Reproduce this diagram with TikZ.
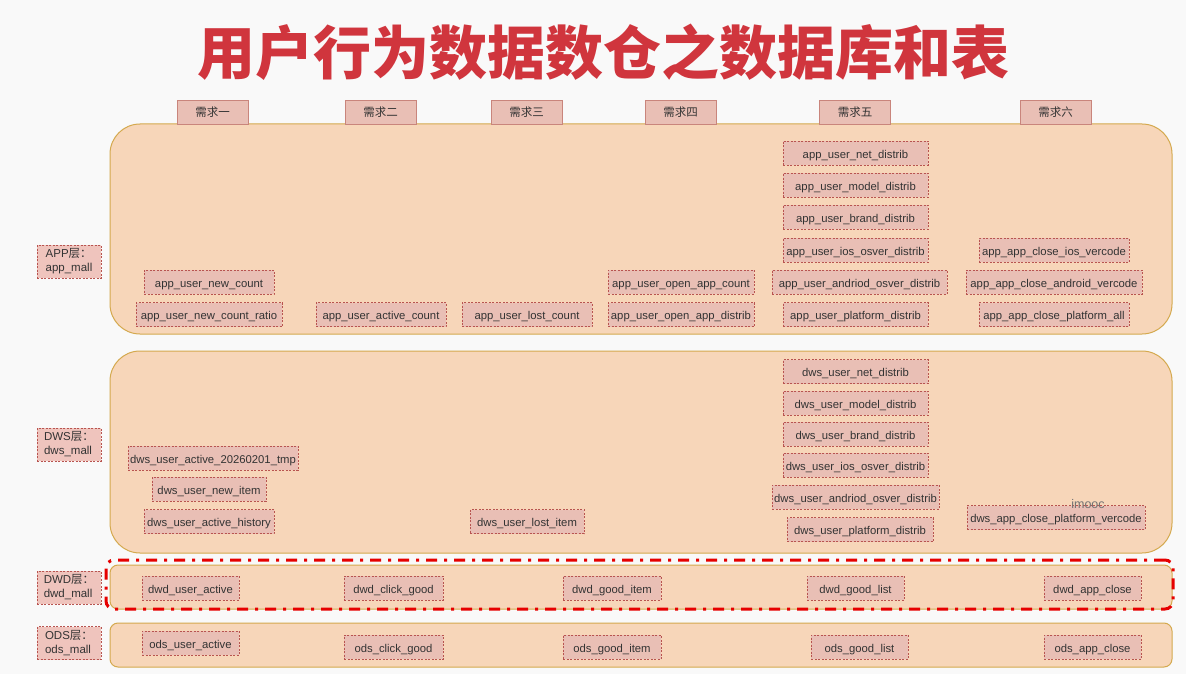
\documentclass[tikz,border=0pt]{standalone}
\usepackage{fontspec}
\setmainfont{Liberation Sans}
\newfontfamily\cjk{Noto Sans CJK SC}
\definecolor{bg}{HTML}{F9F9F9}
\definecolor{titlered}{HTML}{D0353D}
\definecolor{layerfill}{HTML}{F7D6B9}
\definecolor{layerline}{HTML}{D4A94E}
\definecolor{boxfill}{HTML}{E9BFB5}
\definecolor{sidefill}{HTML}{EFC4BD}
\definecolor{boxline}{HTML}{B85450}
\definecolor{tabline}{HTML}{C9857C}
\definecolor{txt}{HTML}{333333}
\definecolor{hotred}{HTML}{E60000}
\tikzset{
  layer/.style={draw=layerline, fill=layerfill, line width=1pt, inner sep=0pt, minimum width=1062pt},
  dashbox/.style={draw=boxline, line width=0.7pt, dash pattern=on 2pt off 1.5pt, inner sep=1pt, text=txt},
  tbl/.style={dashbox, fill=boxfill, minimum height=24pt, text height=12.6pt, text depth=2pt,
    font=\fontsize{11.3}{13}\selectfont},
  side/.style={dashbox, fill=sidefill, minimum width=64pt, minimum height=33pt, align=left,
    font=\fontsize{11.5}{14}\selectfont},
  tab/.style={draw=tabline, fill=boxfill, line width=0.6pt, minimum width=71pt, minimum height=24pt,
    inner sep=0pt, text=txt, font=\cjk\fontsize{11.5}{13}\selectfont},
}
\begin{document}
\begin{tikzpicture}[x=1pt,y=-1pt]
\useasboundingbox[fill=bg] (0,0) rectangle (1186,674);

\node[text=titlered, font=\cjk\bfseries\fontsize{58}{62}\selectfont, inner sep=0pt] (title) at (603.5,52) {用户行为数据数仓之数据库和表};

% layers
\node[layer, minimum height=210pt, rounded corners=30pt] (app) at (641,229) {};
\node[layer, minimum height=202pt, rounded corners=30pt] (dws) at (641,452) {};
\node[layer, minimum height=44pt, rounded corners=8pt] (dwd) at (641,587) {};
\node[layer, minimum height=44pt, rounded corners=8pt] (ods) at (641,645) {};

% tabs
\node[tab] (t1) at (212.5,112) {需求一};
\node[tab] (t2) at (380.5,112) {需求二};
\node[tab] (t3) at (526.5,112) {需求三};
\node[tab] (t4) at (680.5,112) {需求四};
\node[tab] (t5) at (855,112) {需求五};
\node[tab] (t6) at (1055.5,112) {需求六};

% side labels
\node[side] (sapp) at (69,261.5) {APP{\cjk 层：}\\app\_mall};
\node[side] (sdws) at (69,444.5) {DWS{\cjk 层：}\\dws\_mall};
\node[side] (sdwd) at (69,587.5) {DWD{\cjk 层：}\\dwd\_mall};
\node[side] (sods) at (69,643) {ODS{\cjk 层：}\\ods\_mall};

% APP tables
\node[tbl, minimum width=130pt] (a1) at (209,282) {app\_user\_new\_count};
\node[tbl, minimum width=146pt] (a2) at (209,314.5) {app\_user\_new\_count\_ratio};
\node[tbl, minimum width=130pt] (a3) at (381,314.5) {app\_user\_active\_count};
\node[tbl, minimum width=130pt] (a4) at (527,314.5) {app\_user\_lost\_count};
\node[tbl, minimum width=146pt] (a5) at (681,282) {app\_user\_open\_app\_count};
\node[tbl, minimum width=146pt] (a6) at (681,314.5) {app\_user\_open\_app\_distrib};
\node[tbl, minimum width=145pt] (a7) at (855.5,153) {app\_user\_net\_distrib};
\node[tbl, minimum width=145pt] (a8) at (855.5,185) {app\_user\_model\_distrib};
\node[tbl, minimum width=145pt] (a9) at (855.5,217) {app\_user\_brand\_distrib};
\node[tbl, minimum width=145pt] (a10) at (855.5,250) {app\_user\_ios\_osver\_distrib};
\node[tbl, minimum width=175pt] (a11) at (859.5,282) {app\_user\_andriod\_osver\_distrib};
\node[tbl, minimum width=145pt] (a12) at (855.5,314.5) {app\_user\_platform\_distrib};
\node[tbl, minimum width=150pt] (a13) at (1054,250) {app\_app\_close\_ios\_vercode};
\node[tbl, minimum width=176pt] (a14) at (1054,282) {app\_app\_close\_android\_vercode};
\node[tbl, minimum width=150pt] (a15) at (1054,314.5) {app\_app\_close\_platform\_all};

% DWS tables
\node[tbl, minimum width=170pt] (d1) at (213,458) {dws\_user\_active\_20260201\_tmp};
\node[tbl, minimum width=114pt] (d2) at (209,489) {dws\_user\_new\_item};
\node[tbl, minimum width=130pt] (d3) at (209,521.5) {dws\_user\_active\_history};
\node[tbl, minimum width=114pt] (d4) at (527,521.5) {dws\_user\_lost\_item};
\node[tbl, minimum width=145pt] (d5) at (855.5,371.5) {dws\_user\_net\_distrib};
\node[tbl, minimum width=145pt] (d6) at (855.5,403) {dws\_user\_model\_distrib};
\node[tbl, minimum width=145pt] (d7) at (855.5,434) {dws\_user\_brand\_distrib};
\node[tbl, minimum width=145pt] (d8) at (855.5,465) {dws\_user\_ios\_osver\_distrib};
\node[tbl, minimum width=167pt] (d9) at (855.5,497) {dws\_user\_andriod\_osver\_distrib};
\node[tbl, minimum width=146pt] (d10) at (860,529.5) {dws\_user\_platform\_distrib};
\node[tbl, minimum width=178pt] (d11) at (1056,517.5) {dws\_app\_close\_platform\_vercode};
\node[text=black!55, font=\fontsize{12.5}{14}\selectfont, inner sep=0pt] (wm) at (1088,504) {imooc};

% DWD tables
\node[tbl, minimum width=97pt] (w1) at (190.5,588) {dwd\_user\_active};
\node[tbl, minimum width=99pt] (w2) at (393.5,588) {dwd\_click\_good};
\node[tbl, minimum width=98pt] (w3) at (612,588) {dwd\_good\_item};
\node[tbl, minimum width=97pt] (w4) at (855.5,588) {dwd\_good\_list};
\node[tbl, minimum width=97pt] (w5) at (1092.5,588) {dwd\_app\_close};

% ODS tables
\node[tbl, minimum width=97pt] (o1) at (190.5,643) {ods\_user\_active};
\node[tbl, minimum width=99pt] (o2) at (393.5,647) {ods\_click\_good};
\node[tbl, minimum width=98pt] (o3) at (612,647) {ods\_good\_item};
\node[tbl, minimum width=97pt] (o4) at (859.5,647) {ods\_good\_list};
\node[tbl, minimum width=97pt] (o5) at (1092.5,647) {ods\_app\_close};

% highlight
\node[draw=hotred, line width=3pt, dash pattern=on 11pt off 7pt on 3pt off 7pt, rounded corners=8pt,
  minimum width=1067pt, minimum height=49pt, inner sep=0pt] (hl) at (639.5,584.5) {};
\end{tikzpicture}
\end{document}
